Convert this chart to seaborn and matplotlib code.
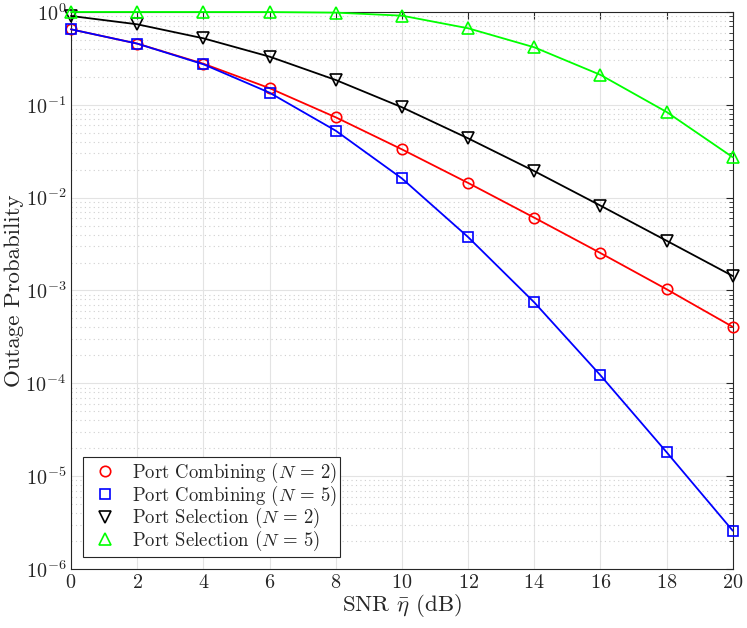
import matplotlib
matplotlib.use("Agg")
import matplotlib.pyplot as plt
import matplotlib.ticker as mticker
from matplotlib.lines import Line2D
import seaborn as sns
import numpy as np

# SNR axis (dB)
snr_db = [0, 2, 4, 6, 8, 10, 12, 14, 16, 18, 20]

# outage probability
combining_n2 = [0.65, 0.456, 0.277, 0.151, 0.0733, 0.0331, 0.0144, 0.00608, 0.00253, 0.00103, 0.000405]
combining_n5 = [0.65, 0.456, 0.273, 0.135, 0.0526, 0.0161, 0.00376, 0.000744, 0.000122, 1.81e-5, 2.58e-6]
selection_n2 = [0.905, 0.736, 0.52, 0.33, 0.185, 0.094, 0.0435, 0.0193, 0.0082, 0.00343, 0.00143]
selection_n5 = [0.999, 0.999, 0.998, 0.997, 0.983, 0.912, 0.667, 0.416, 0.21, 0.0836, 0.0272]

labels = [r"Port Combining ($N$ = 2)", r"Port Combining ($N$ = 5)",
          r"Port Selection ($N$ = 2)", r"Port Selection ($N$ = 5)"]

sns.set_style("white")
plt.rcParams['font.family'] = ['cmr10', 'DejaVu Serif']
plt.rcParams['mathtext.fontset'] = 'cm'
plt.rcParams['axes.formatter.use_mathtext'] = True
plt.rcParams['axes.unicode_minus'] = False

fig = plt.figure(figsize=(7.47, 6.28), dpi=100)
ax = fig.add_axes([0.095, 0.094, 0.886, 0.887])

series = [combining_n2, combining_n5, selection_n2, selection_n5]
colors = ['#ff0000', '#0000ff', '#000000', '#00ff00']
markers = ['o', 's', 'v', '^']
sizes = [7.5, 7, 8.5, 8.5]

for vals, c, m, ms in zip(series, colors, markers, sizes):
    sns.lineplot(x=snr_db, y=vals, ax=ax, color=c, marker=m, markersize=ms,
                 markerfacecolor='none', markeredgecolor=c, markeredgewidth=1.2,
                 linewidth=1.3, clip_on=False, zorder=3)

ax.set_yscale('log')
ax.set_xlim(0, 20)
ax.set_ylim(1e-6, 1)
ax.set_xticks(np.arange(0, 21, 2))
ax.yaxis.set_major_locator(mticker.LogLocator(base=10, numticks=10))
ax.yaxis.set_minor_locator(mticker.LogLocator(base=10, subs=np.arange(2, 10), numticks=100))
ax.yaxis.set_minor_formatter(mticker.NullFormatter())

ax.grid(True, which='major', color='#e3e3e3', linestyle='-', linewidth=0.8)
ax.grid(True, which='minor', axis='y', color='#cfcfcf', linestyle=(0, (1, 3)), linewidth=0.8)
ax.set_axisbelow(True)

ax.tick_params(which='both', direction='in', top=True, right=True, labelsize=14.5, colors='#262626')
ax.tick_params(which='major', length=5)
ax.tick_params(which='minor', length=3)
for s in ax.spines.values():
    s.set_color('#262626')
    s.set_linewidth(0.8)

ax.set_xlabel(r"SNR $\bar{\eta}$ (dB)", fontsize=16.5, labelpad=0)
ax.set_ylabel("Outage Probability", fontsize=16.5, labelpad=1)

handles = [Line2D([], [], linestyle='none', marker=m, markersize=ms, color=c,
                  markerfacecolor='none', markeredgewidth=1.2)
           for c, m, ms in zip(colors, markers, sizes)]
leg = ax.legend(handles, labels, loc='lower left', bbox_to_anchor=(0.018, 0.022),
                borderaxespad=0, fontsize=13.5, fancybox=False, framealpha=1,
                edgecolor='#262626', handletextpad=0.4, labelspacing=-0.08,
                borderpad=0.2)
leg.get_frame().set_linewidth(0.8)

fig.savefig('out.png', dpi=100)
